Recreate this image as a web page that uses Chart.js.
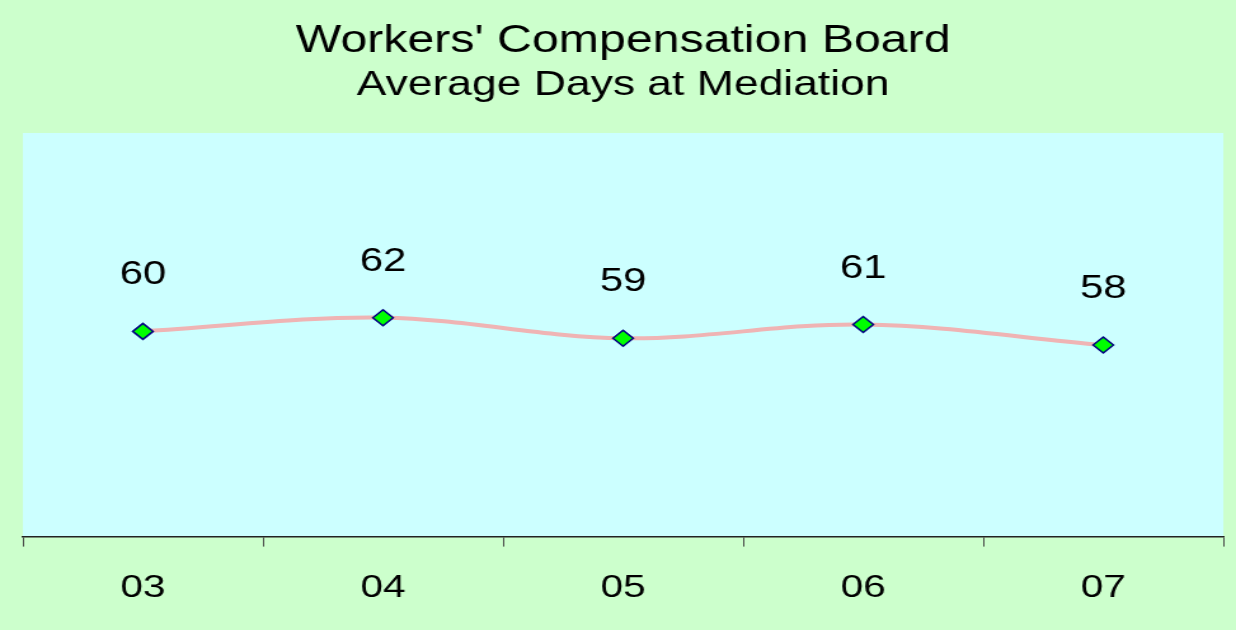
<!DOCTYPE html>
<html>
<head>
<meta charset="utf-8">
<script src="https://cdn.jsdelivr.net/npm/chart.js@4.4.0/dist/chart.umd.min.js"></script>
<style>
  html, body { margin: 0; padding: 0; background: #CCFFCC; overflow: hidden; }
  /* the reference is stretched sideways, so the canvas is drawn narrower and widened */
  #myChart { display: block; width: 1236px !important; height: 630px !important; }
</style>
</head>
<body>
<canvas id="myChart" width="973" height="630"></canvas>
<script>
const years = ["03", "04", "05", "06", "07"];
const avgDays = [60, 62, 59, 61, 58];

// plot area fill
const plotBackground = {
    id: "plotBackground",
    beforeDraw(chart) {
        const { ctx, chartArea } = chart;
        ctx.save();
        ctx.fillStyle = "#CCFFFF";
        ctx.fillRect(chartArea.left, chartArea.top, chartArea.right - chartArea.left, chartArea.bottom - chartArea.top);
        ctx.restore();
    },
};

// value labels above the markers
const valueLabels = {
    id: "valueLabels",
    afterDatasetsDraw(chart) {
        const ctx = chart.ctx;
        const meta = chart.getDatasetMeta(0);
        ctx.save();
        ctx.font = "33px 'Liberation Sans', Arial, sans-serif";
        ctx.fillStyle = "#000000";
        ctx.textAlign = "center";
        ctx.textBaseline = "middle";
        meta.data.forEach((pt, i) => {
            ctx.fillText(String(chart.data.datasets[0].data[i]), pt.x, pt.y - 56);
        });
        ctx.restore();
    },
};

const ctx = document.getElementById("myChart").getContext("2d");
const myChart = new Chart(ctx, {
    type: "line",
    data: {
        labels: years,
        datasets: [
            {
                label: "Average Days at Mediation",
                data: avgDays,
                borderColor: "#EFB4B4",
                borderWidth: 4,
                tension: 0.35,
                pointStyle: "rectRot",
                pointRadius: 8,
                pointBackgroundColor: "#00FF00",
                pointBorderColor: "#000080",
                pointBorderWidth: 1.5,
            },
        ],
    },
    options: {
        responsive: false,
        devicePixelRatio: 1,
        animation: false,
        layout: {
            padding: { top: 0, left: 18, right: 10, bottom: 1 },
        },
        scales: {
            x: {
                offset: true,
                grid: {
                    display: true,
                    offset: true,
                    drawOnChartArea: false,
                    drawTicks: true,
                    tickLength: 10,
                    color: "#444444",
                },
                border: { display: true, color: "#222222", width: 1.5 },
                ticks: {
                    color: "#000000",
                    padding: 22,
                    font: { family: "'Liberation Sans', Arial, sans-serif", size: 32 },
                },
            },
            y: {
                display: false,
                min: 30,
                max: 89,
            },
        },
        plugins: {
            legend: { display: false },
            tooltip: { enabled: false },
            title: {
                display: true,
                text: "Workers' Compensation Board",
                color: "#000000",
                font: { family: "'Liberation Sans', Arial, sans-serif", size: 38, weight: "normal" },
                padding: { top: 19, bottom: 0 },
            },
            subtitle: {
                display: true,
                text: "Average Days at Mediation",
                color: "#000000",
                font: { family: "'Liberation Sans', Arial, sans-serif", size: 35, weight: "normal" },
                padding: { top: 0, bottom: 26.4 },
            },
        },
    },
    plugins: [plotBackground, valueLabels],
});
</script>
</body>
</html>
